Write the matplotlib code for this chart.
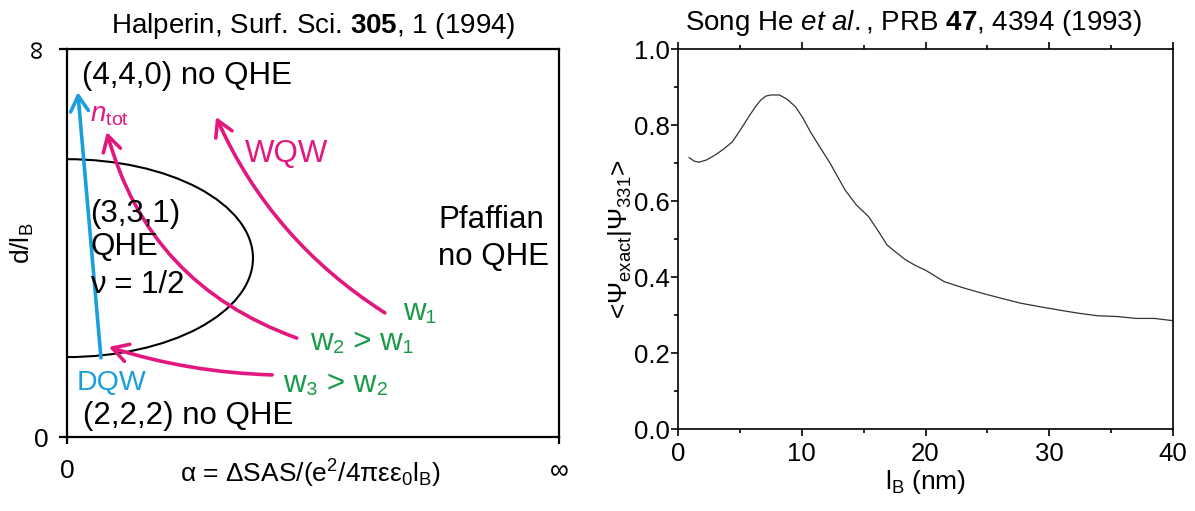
import numpy as np
import matplotlib
matplotlib.use('Agg')
import matplotlib.pyplot as plt
from matplotlib.patches import Arc

plt.rcParams['font.family'] = ['Liberation Sans', 'DejaVu Sans']
plt.rcParams['mathtext.fontset'] = 'custom'
plt.rcParams['mathtext.rm'] = 'Liberation Sans'
plt.rcParams['mathtext.it'] = 'Liberation Sans:italic'
plt.rcParams['mathtext.bf'] = 'Liberation Sans:bold'

# right panel: overlap <Psi_exact|Psi_331> vs magnetic length
lb_nm = [0.9, 1.3, 1.7, 2.3, 3.0, 3.7, 4.4, 5.1, 5.8, 6.3, 6.7, 7.1, 7.5, 8.2,
         8.8, 9.5, 10.1, 10.7, 11.5, 12.3, 13.5, 14.4, 15.4, 16.2, 16.9, 17.5,
         18.4, 19.2, 20.0, 21.5, 23.0, 24.6, 26.0, 27.7, 29.2, 30.8, 32.3, 33.9,
         35.5, 37.0, 38.5, 40.0]
overlap = [0.714, 0.705, 0.702, 0.708, 0.721, 0.737, 0.756, 0.790, 0.826, 0.850,
           0.866, 0.876, 0.879, 0.879, 0.868, 0.848, 0.818, 0.782, 0.740, 0.699,
           0.629, 0.590, 0.559, 0.520, 0.484, 0.468, 0.445, 0.430, 0.418, 0.388,
           0.372, 0.357, 0.345, 0.331, 0.322, 0.313, 0.305, 0.298, 0.296, 0.291,
           0.291, 0.285]

# left panel: schematic phase diagram, axes run 0..1 (0..infinity)
qhe_center = (0.0, 0.461)
qhe_halfwidth = 0.378
qhe_halfheight = 0.255

# arrows: (start, tip, curvature, colour key)
arrows = [
    ((0.069, 0.204), (0.022, 0.889), 0.0, 'blue'),     # DQW
    ((0.467, 0.255), (0.081, 0.786), -0.26, 'magenta'),  # n_tot
    ((0.646, 0.320), (0.303, 0.825), -0.15, 'magenta'),  # WQW
    ((0.417, 0.160), (0.085, 0.232), -0.07, 'magenta'),  # w3
]

colors = {'magenta': '#E2187F', 'blue': '#1A9FDB', 'green': '#1A9A4A'}

fig = plt.figure(figsize=(11.95, 5.11), dpi=100)

# ---------------- left panel ----------------
ax1 = fig.add_axes([67 / 1195, 74 / 511, 492 / 1195, 388 / 511])
ax1.set_xlim(0, 1)
ax1.set_ylim(0, 1)
for s in ax1.spines.values():
    s.set_linewidth(1.6)
ax1.set_xticks([0, 1])
ax1.set_xticklabels(['0', '\u221e'])
ax1.set_yticks([0, 1])
ax1.set_yticklabels(['0', '\u221e'])
ax1.get_yticklabels()[1].set_rotation(90)
ax1.get_yticklabels()[1].set_va('center')
ax1.tick_params(axis='x', direction='out', length=5, width=1.6, pad=11, labelsize=19)
ax1.tick_params(axis='y', direction='out', length=6, width=1.6, pad=7, labelsize=19)
ax1.set_xlabel('\u03b1 = \u0394SAS/(e$^2$/4\u03c0\u03b5\u03b5$_0$l$_{\\rm B}$)', fontsize=19, va='center')
ax1.xaxis.set_label_coords(0.494, -0.095)
ax1.set_ylabel('d/l$_{\\rm B}$', fontsize=19, labelpad=-8)
ax1.set_title('Halperin, Surf. Sci. $\\mathbf{305}$, 1 (1994)', fontsize=20, pad=11.5)

ax1.add_patch(Arc(qhe_center, 2 * qhe_halfwidth, 2 * qhe_halfheight,
                  theta1=-90, theta2=90, color='black', lw=1.5))

for start, tip, rad, c in arrows:
    ax1.annotate('', xy=tip, xytext=start,
                 arrowprops=dict(arrowstyle='->,head_length=0.7,head_width=0.4',
                                 connectionstyle='arc3,rad=%g' % rad,
                                 color=colors[c], lw=2.6, shrinkA=0, shrinkB=0,
                                 mutation_scale=16))

fs = 22.5
ax1.text(0.030, 0.911, '(4,4,0) no QHE', fontsize=fs, va='baseline')
ax1.text(0.047, 0.554, '(3,3,1)', fontsize=fs, va='baseline')
ax1.text(0.047, 0.469, 'QHE', fontsize=fs, va='baseline')
ax1.text(0.047, 0.371, '\u03bd = 1/2', fontsize=fs, va='baseline')
ax1.text(0.862, 0.539, 'Pfaffian', fontsize=fs, va='baseline', ha='center')
ax1.text(0.866, 0.443, 'no QHE', fontsize=fs, va='baseline', ha='center')
ax1.text(0.033, 0.033, '(2,2,2) no QHE', fontsize=fs, va='baseline')
ax1.text(0.020, 0.121, 'DQW', fontsize=20.5, va='baseline', color=colors['blue'])
ax1.text(0.362, 0.709, 'WQW', fontsize=fs, va='baseline', color=colors['magenta'])
ax1.text(0.047, 0.812, '$n$$_{\\rm tot}$', fontsize=20, va='baseline', color=colors['magenta'])
ax1.text(0.684, 0.302, 'w\u2081', fontsize=fs, va='baseline', color=colors['green'])
ax1.text(0.494, 0.224, 'w\u2082 > w\u2081', fontsize=fs, va='baseline', color=colors['green'])
ax1.text(0.439, 0.116, 'w\u2083 > w\u2082', fontsize=fs, va='baseline', color=colors['green'])

# ---------------- right panel ----------------
ax2 = fig.add_axes([678 / 1195, 82 / 511, 495 / 1195, 380 / 511])
ax2.plot(lb_nm, overlap, color='#333333', lw=0.9)
ax2.set_xlim(0, 40)
ax2.set_ylim(0, 1.0)
ax2.set_xticks([0, 10, 20, 30, 40])
ax2.set_xticks([5, 15, 25, 35], minor=True)
ax2.set_yticks([0, 0.2, 0.4, 0.6, 0.8, 1.0])
ax2.set_yticks([0.1, 0.3, 0.5, 0.7, 0.9], minor=True)
ax2.set_yticklabels(['0.0', '0.2', '0.4', '0.6', '0.8', '1.0'])
for s in ax2.spines.values():
    s.set_linewidth(1.2)
ax2.tick_params(which='both', direction='out', top=True, right=False, width=1.2, labelsize=18.5)
ax2.tick_params(which='major', length=5)
ax2.tick_params(which='minor', length=3)
ax2.tick_params(axis='y', pad=1)
ax2.tick_params(axis='x', pad=4)
ax2.set_xlabel('l$_{\\rm B}$ (nm)', fontsize=19, labelpad=2)
ax2.set_ylabel('<\u03a8$_{\\rm exact}$|\u03a8$_{331}$>', fontsize=19, labelpad=0)
ax2.set_title('Song He $\\mathit{et\\ al.}$, PRB $\\mathbf{47}$, 4394 (1993)',
              fontsize=20, pad=14, x=0.475)

fig.savefig('out.png', dpi=100)
